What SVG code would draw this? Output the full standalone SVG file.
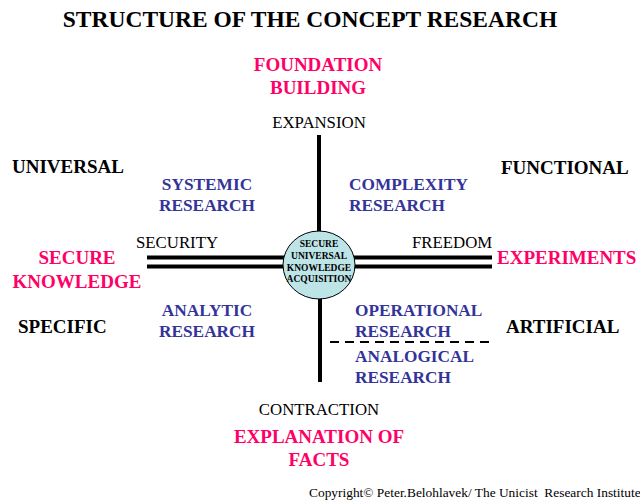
<svg xmlns="http://www.w3.org/2000/svg" width="640" height="500" viewBox="0 0 640 500">
<style>
text{font-family:"Liberation Serif","Times New Roman",serif}
.t{font-size:23.5px;font-weight:bold;fill:#000}
.p{font-size:19px;font-weight:bold;fill:#ff0066}
.k{font-size:19px;font-weight:bold;fill:#000}
.b{font-size:17.3px;font-weight:bold;fill:#333399}
.n{font-size:16.8px;fill:#000}
.c{font-size:9.5px;font-weight:bold;fill:#000}
.m{text-anchor:middle}
.ln{stroke:#000;stroke-width:4;fill:none}
</style>
<rect width="640" height="500" fill="#fff"/>
<text class="t m" x="310" y="27">STRUCTURE OF THE CONCEPT RESEARCH</text>
<g id="connectors">
<line class="ln" x1="319" y1="135" x2="319" y2="232"/>
<line class="ln" x1="320" y1="298" x2="320" y2="382"/>
<line class="ln" x1="147" y1="257.5" x2="284" y2="257.5"/>
<line class="ln" x1="147" y1="266.5" x2="284" y2="266.5"/>
<line class="ln" x1="354" y1="257.5" x2="492" y2="257.5"/>
<line class="ln" x1="354" y1="266.5" x2="492" y2="266.5"/>
<line x1="330" y1="342" x2="493" y2="342" stroke="#000" stroke-width="2" stroke-dasharray="9,6"/>
</g>
<g id="center">
<ellipse cx="319" cy="265" rx="36" ry="34" fill="#bde4e6" stroke="#000" stroke-width="1"/>
<text class="c m" x="319" y="247">SECURE</text>
<text class="c m" x="319" y="259">UNIVERSAL</text>
<text class="c m" x="319" y="271">KNOWLEDGE</text>
<text class="c m" x="319" y="282">ACQUISITION</text>
</g>
<g id="foundation"><text class="p m" x="318" y="71">FOUNDATION</text><text class="p m" x="318" y="94">BUILDING</text></g>
<g id="expansion"><text class="n m" x="319" y="128">EXPANSION</text></g>
<g id="universal"><text class="k" x="12" y="173">UNIVERSAL</text></g>
<g id="functional"><text class="k" x="501" y="174">FUNCTIONAL</text></g>
<g id="systemic"><text class="b m" x="207" y="190">SYSTEMIC</text><text class="b m" x="207" y="211">RESEARCH</text></g>
<g id="complexity"><text class="b" x="349" y="190">COMPLEXITY</text><text class="b" x="349" y="211">RESEARCH</text></g>
<g id="security"><text class="n" x="136" y="248">SECURITY</text></g>
<g id="freedom"><text class="n" x="412" y="248">FREEDOM</text></g>
<g id="secure-knowledge"><text class="p m" x="77" y="264">SECURE</text><text class="p m" x="77" y="288">KNOWLEDGE</text></g>
<g id="experiments"><text class="p" x="497" y="264">EXPERIMENTS</text></g>
<g id="specific"><text class="k" x="18" y="333">SPECIFIC</text></g>
<g id="artificial"><text class="k" x="506" y="333">ARTIFICIAL</text></g>
<g id="analytic"><text class="b m" x="207" y="316">ANALYTIC</text><text class="b m" x="207" y="337">RESEARCH</text></g>
<g id="operational"><text class="b" x="355" y="316">OPERATIONAL</text><text class="b" x="355" y="337">RESEARCH</text></g>
<g id="analogical"><text class="b" x="355" y="362">ANALOGICAL</text><text class="b" x="355" y="383">RESEARCH</text></g>
<g id="contraction"><text class="n m" x="319" y="415">CONTRACTION</text></g>
<g id="explanation"><text class="p m" x="319" y="443">EXPLANATION OF</text><text class="p m" x="319" y="466">FACTS</text></g>
<text x="309" y="497" font-size="13.4px" fill="#000" xml:space="preserve">Copyright© Peter.Belohlavek/ The Unicist  Research Institute</text>
</svg>
